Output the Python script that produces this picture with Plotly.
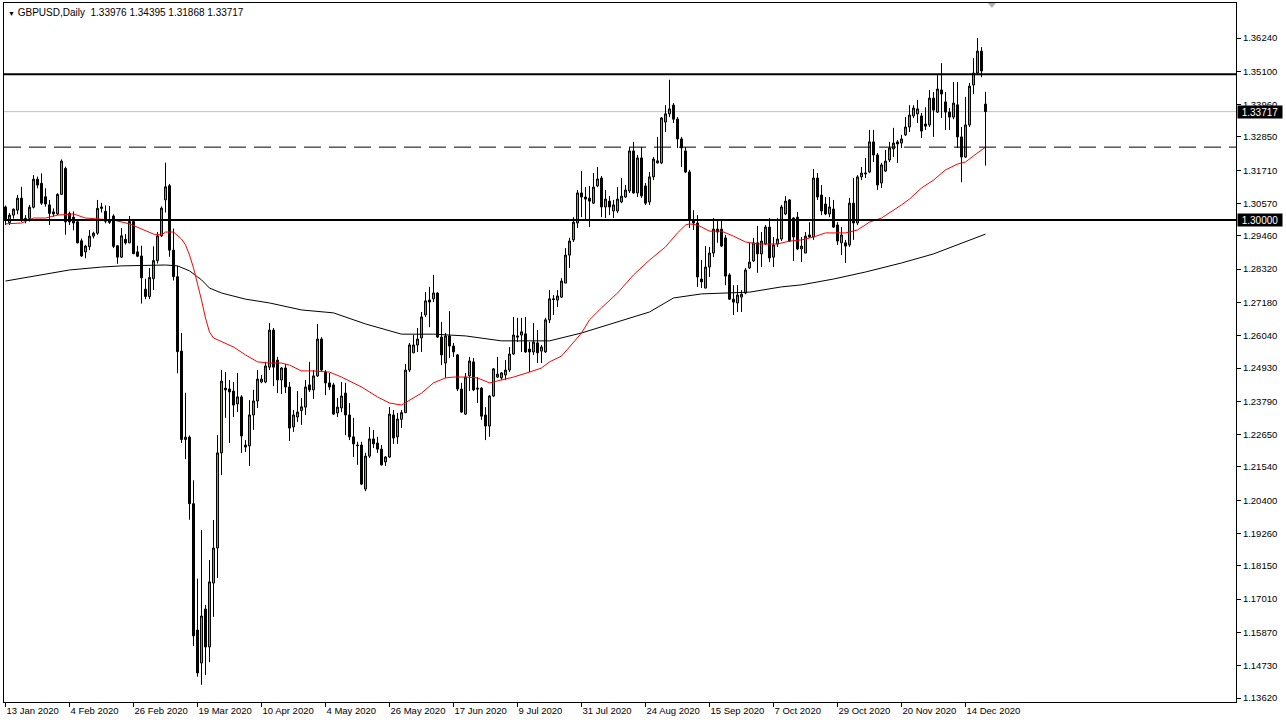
import plotly.graph_objects as go
import pandas as pd

# ---------------- data ----------------
dates = pd.bdate_range("2020-01-13", "2020-12-21")

opens = [
    1.3045, 1.2991, 1.3017, 1.3034, 1.3075, 1.3006, 1.3006, 1.3044, 1.3140, 1.3126,
    1.3080, 1.3052, 1.3028, 1.3021, 1.3088, 1.3177, 1.3023, 1.3010, 1.2994, 1.2929,
    1.2891, 1.2909, 1.2945, 1.2955, 1.3040, 1.3030, 1.3000, 1.3014, 1.2912, 1.2873,
    1.2934, 1.2922, 1.2995, 1.2891, 1.2877, 1.2763, 1.2738, 1.2799, 1.2861, 1.2946,
    1.3069, 1.3118, 1.2897, 1.2806, 1.2551, 1.2248, 1.2256, 1.2028, 1.1595, 1.1482,
    1.1667, 1.1537, 1.1756, 1.1876, 1.2202, 1.2424, 1.2421, 1.2414, 1.2370, 1.2394,
    1.2229, 1.2226, 1.2332, 1.2380, 1.2445, 1.2445, 1.2496, 1.2623, 1.2520, 1.2452,
    1.2493, 1.2428, 1.2291, 1.2325, 1.2347, 1.2359, 1.2435, 1.2418, 1.2466, 1.2592,
    1.2479, 1.2442, 1.2435, 1.2339, 1.2356, 1.2407, 1.2332, 1.2257, 1.2229, 1.2229,
    1.2078, 1.2191, 1.2250, 1.2236, 1.2215, 1.2171, 1.2188, 1.2332, 1.2257, 1.2317,
    1.2340, 1.2486, 1.2545, 1.2572, 1.2596, 1.2675, 1.2726, 1.2730, 1.2750, 1.2599,
    1.2510, 1.2603, 1.2568, 1.2538, 1.2421, 1.2335, 1.2466, 1.2514, 1.2424, 1.2424,
    1.2332, 1.2294, 1.2397, 1.2462, 1.2459, 1.2469, 1.2486, 1.2541, 1.2603, 1.2606,
    1.2610, 1.2558, 1.2548, 1.2579, 1.2551, 1.2548, 1.2658, 1.2730, 1.2726, 1.2736,
    1.2784, 1.2880, 1.2932, 1.2990, 1.3093, 1.3079, 1.3075, 1.3058, 1.3117, 1.3144,
    1.3045, 1.3065, 1.3031, 1.3031, 1.3062, 1.3079, 1.3100, 1.3237, 1.3093, 1.3213,
    1.3117, 1.3062, 1.3148, 1.3196, 1.3196, 1.3336, 1.3364, 1.3394, 1.3346, 1.3278,
    1.3237, 1.3165, 1.3000, 1.2990, 1.2798, 1.2767, 1.2839, 1.2887, 1.2969, 1.2969,
    1.2939, 1.2812, 1.2729, 1.2716, 1.2736, 1.2750, 1.2836, 1.2860, 1.2922, 1.2884,
    1.2918, 1.2976, 1.2873, 1.2918, 1.2935, 1.3021, 1.3069, 1.3007, 1.3010, 1.2901,
    1.2887, 1.2949, 1.2942, 1.3144, 1.3086, 1.3055, 1.3021, 1.3038, 1.2983, 1.2922,
    1.2922, 1.2915, 1.3058, 1.2990, 1.3148, 1.3158, 1.3165, 1.3268, 1.3223, 1.3127,
    1.3168, 1.3206, 1.3244, 1.3268, 1.3264, 1.3292, 1.3319, 1.3357, 1.3364, 1.3357,
    1.3329, 1.3326, 1.3418, 1.3370, 1.3446, 1.3405, 1.3370, 1.3353, 1.3395, 1.3285,
    1.3216, 1.3326, 1.3463, 1.3504, 1.3579, 1.33976,
]
highs = [
    1.3050, 1.3024, 1.3040, 1.3086, 1.3114, 1.3017, 1.3052, 1.3154, 1.3149, 1.3160,
    1.3109, 1.3069, 1.3040, 1.3092, 1.3208, 1.3183, 1.3029, 1.3030, 1.3000, 1.2937,
    1.2915, 1.2966, 1.2960, 1.3069, 1.3059, 1.3050, 1.3048, 1.3020, 1.2914, 1.2973,
    1.2952, 1.3014, 1.3002, 1.2912, 1.2912, 1.2799, 1.2836, 1.2910, 1.2959, 1.3047,
    1.3197, 1.3124, 1.2971, 1.2843, 1.2613, 1.2408, 1.2262, 1.2108, 1.1771, 1.1938,
    1.1681, 1.1835, 1.1972, 1.2263, 1.2486, 1.2479, 1.2452, 1.2445, 1.2476, 1.2400,
    1.2246, 1.2383, 1.2418, 1.2486, 1.2469, 1.2514, 1.2647, 1.2630, 1.2531, 1.2496,
    1.2507, 1.2445, 1.2349, 1.2414, 1.2390, 1.2452, 1.2514, 1.2486, 1.2644, 1.2599,
    1.2486, 1.2476, 1.2442, 1.2390, 1.2445, 1.2442, 1.2373, 1.2322, 1.2240, 1.2240,
    1.2202, 1.2291, 1.2281, 1.2257, 1.2229, 1.2191, 1.2359, 1.2349, 1.2339, 1.2349,
    1.2507, 1.2579, 1.2606, 1.2630, 1.2685, 1.2753, 1.2771, 1.2812, 1.2753, 1.2651,
    1.2613, 1.2688, 1.2579, 1.2541, 1.2442, 1.2476, 1.2531, 1.2527, 1.2462, 1.2428,
    1.2359, 1.2400, 1.2493, 1.2531, 1.2479, 1.2520, 1.2565, 1.2668, 1.2665, 1.2665,
    1.2668, 1.2582, 1.2647, 1.2623, 1.2572, 1.2665, 1.2760, 1.2743, 1.2760, 1.2801,
    1.2904, 1.2939, 1.3010, 1.3103, 1.3168, 1.3113, 1.3117, 1.3161, 1.3182, 1.3151,
    1.3103, 1.3082, 1.3069, 1.3113, 1.3144, 1.3120, 1.3250, 1.3268, 1.3223, 1.3250,
    1.3127, 1.3165, 1.3216, 1.3285, 1.3353, 1.3394, 1.3481, 1.3401, 1.3353, 1.3285,
    1.3250, 1.3172, 1.3034, 1.3017, 1.2863, 1.2911, 1.2908, 1.3007, 1.3000, 1.3000,
    1.2949, 1.2818, 1.2777, 1.2777, 1.2760, 1.2836, 1.2922, 1.2939, 1.2980, 1.2959,
    1.2983, 1.3007, 1.2942, 1.3007, 1.3052, 1.3082, 1.3072, 1.3010, 1.3028, 1.2942,
    1.2959, 1.2993, 1.3175, 1.3161, 1.3120, 1.3079, 1.3079, 1.3069, 1.2993, 1.2976,
    1.2932, 1.3076, 1.3144, 1.3154, 1.3182, 1.3213, 1.3309, 1.3309, 1.3230, 1.3196,
    1.3240, 1.3268, 1.3316, 1.3274, 1.3292, 1.3353, 1.3394, 1.3394, 1.3412, 1.3367,
    1.3387, 1.3446, 1.3439, 1.3497, 1.3538, 1.3439, 1.3384, 1.3473, 1.3473, 1.3319,
    1.3422, 1.3470, 1.3555, 1.3624, 1.3593, 1.34395,
]
lows = [
    1.2983, 1.2983, 1.3005, 1.3020, 1.2994, 1.2989, 1.2995, 1.3040, 1.3109, 1.3052,
    1.3046, 1.2983, 1.3012, 1.3017, 1.3086, 1.2950, 1.2983, 1.2965, 1.2920, 1.2874,
    1.2869, 1.2897, 1.2937, 1.2949, 1.3026, 1.2989, 1.2987, 1.2904, 1.2850, 1.2870,
    1.2916, 1.2921, 1.2883, 1.2873, 1.2714, 1.2729, 1.2729, 1.2760, 1.2851, 1.2942,
    1.3026, 1.2874, 1.2793, 1.2475, 1.2236, 1.2181, 1.1973, 1.1540, 1.1435, 1.1407,
    1.1441, 1.1485, 1.1640, 1.1773, 1.2126, 1.2322, 1.2236, 1.2325, 1.2342, 1.2202,
    1.2205, 1.2157, 1.2281, 1.2356, 1.2441, 1.2441, 1.2486, 1.2431, 1.2407, 1.2404,
    1.2407, 1.2243, 1.2274, 1.2308, 1.2298, 1.2332, 1.2411, 1.2387, 1.2462, 1.2479,
    1.2400, 1.2418, 1.2332, 1.2325, 1.2342, 1.2263, 1.2246, 1.2188, 1.2161, 1.2092,
    1.2071, 1.2185, 1.2219, 1.2202, 1.2159, 1.2157, 1.2185, 1.2233, 1.2233, 1.2287,
    1.2339, 1.2479, 1.2544, 1.2548, 1.2548, 1.2668, 1.2633, 1.2719, 1.2596, 1.2503,
    1.2459, 1.2527, 1.2531, 1.2414, 1.2339, 1.2332, 1.2414, 1.2414, 1.2373, 1.2315,
    1.2246, 1.2257, 1.2394, 1.2459, 1.2452, 1.2452, 1.2479, 1.2538, 1.2582, 1.2548,
    1.2545, 1.2479, 1.2538, 1.2510, 1.2510, 1.2545, 1.2647, 1.2675, 1.2702, 1.2733,
    1.2784, 1.2836, 1.2925, 1.2973, 1.3010, 1.3000, 1.2976, 1.3055, 1.3113, 1.3010,
    1.3007, 1.3017, 1.3007, 1.3024, 1.3058, 1.3076, 1.3093, 1.3091, 1.3079, 1.3076,
    1.3052, 1.3052, 1.3137, 1.3194, 1.3192, 1.3302, 1.3353, 1.3333, 1.3247, 1.3182,
    1.3161, 1.2973, 1.2966, 1.2771, 1.2767, 1.2766, 1.2805, 1.2873, 1.2922, 1.2908,
    1.2777, 1.2726, 1.2675, 1.2685, 1.2685, 1.2746, 1.2832, 1.2856, 1.2819, 1.2839,
    1.2915, 1.2856, 1.2839, 1.2908, 1.2928, 1.3017, 1.2925, 1.2860, 1.2897, 1.2856,
    1.2887, 1.2939, 1.2932, 1.3069, 1.3017, 1.3017, 1.3010, 1.2973, 1.2915, 1.2880,
    1.2853, 1.2908, 1.2932, 1.2983, 1.3137, 1.3144, 1.3161, 1.3199, 1.3103, 1.3110,
    1.3165, 1.3199, 1.3216, 1.3196, 1.3247, 1.3288, 1.3302, 1.3350, 1.3333, 1.3281,
    1.3309, 1.3319, 1.3285, 1.3367, 1.3350, 1.3309, 1.3309, 1.3346, 1.3247, 1.3130,
    1.3213, 1.3319, 1.3432, 1.3497, 1.3490, 1.31868,
]
closes = [
    1.3000, 1.3017, 1.3037, 1.3075, 1.3000, 1.2998, 1.3044, 1.3140, 1.3120, 1.3058,
    1.3055, 1.3023, 1.3021, 1.3088, 1.3202, 1.2994, 1.2994, 1.2990, 1.2922, 1.2877,
    1.2911, 1.2945, 1.2955, 1.3040, 1.3045, 1.2996, 1.2992, 1.2910, 1.2873, 1.2946,
    1.2922, 1.2995, 1.2885, 1.2876, 1.2802, 1.2738, 1.2803, 1.2861, 1.2946, 1.3041,
    1.3114, 1.2897, 1.2806, 1.2549, 1.2248, 1.2256, 1.2028, 1.1575, 1.1448, 1.1643,
    1.1537, 1.1760, 1.1876, 1.2202, 1.2448, 1.2418, 1.2411, 1.2366, 1.2394, 1.2260,
    1.2222, 1.2332, 1.2380, 1.2455, 1.2455, 1.2500, 1.2623, 1.2496, 1.2452, 1.2493,
    1.2428, 1.2287, 1.2332, 1.2342, 1.2360, 1.2428, 1.2418, 1.2466, 1.2592, 1.2486,
    1.2442, 1.2428, 1.2335, 1.2359, 1.2397, 1.2332, 1.2257, 1.2233, 1.2227, 1.2095,
    1.2191, 1.2250, 1.2233, 1.2215, 1.2161, 1.2188, 1.2335, 1.2253, 1.2318, 1.2340,
    1.2486, 1.2572, 1.2572, 1.2592, 1.2668, 1.2723, 1.2719, 1.2750, 1.2599, 1.2538,
    1.2603, 1.2568, 1.2548, 1.2421, 1.2342, 1.2462, 1.2517, 1.2418, 1.2421, 1.2328,
    1.2294, 1.2397, 1.2490, 1.2472, 1.2476, 1.2486, 1.2541, 1.2606, 1.2599, 1.2617,
    1.2548, 1.2548, 1.2582, 1.2545, 1.2565, 1.2658, 1.2730, 1.2728, 1.2740, 1.2791,
    1.2880, 1.2928, 1.2993, 1.3093, 1.3079, 1.3072, 1.3065, 1.3113, 1.3141, 1.3045,
    1.3072, 1.3045, 1.3052, 1.3072, 1.3082, 1.3103, 1.3237, 1.3093, 1.3213, 1.3083,
    1.3058, 1.3148, 1.3209, 1.3203, 1.3350, 1.3364, 1.3381, 1.3346, 1.3278, 1.3247,
    1.3165, 1.3000, 1.2990, 1.2805, 1.2788, 1.2839, 1.2887, 1.2969, 1.2959, 1.2911,
    1.2808, 1.2729, 1.2719, 1.2743, 1.2746, 1.2829, 1.2856, 1.2922, 1.2884, 1.2928,
    1.2976, 1.2870, 1.2915, 1.2935, 1.3045, 1.3065, 1.2928, 1.2942, 1.2901, 1.2911,
    1.2945, 1.2942, 1.3144, 1.3079, 1.3031, 1.3021, 1.3045, 1.2976, 1.2928, 1.2949,
    1.2911, 1.3058, 1.2990, 1.3148, 1.3161, 1.3161, 1.3268, 1.3223, 1.3120, 1.3189,
    1.3202, 1.3247, 1.3264, 1.3261, 1.3278, 1.3319, 1.3360, 1.3384, 1.3381, 1.3305,
    1.3322, 1.3418, 1.3377, 1.3449, 1.3432, 1.3370, 1.3353, 1.3401, 1.3285, 1.3216,
    1.3326, 1.3459, 1.3504, 1.3579, 1.3511, 1.33717,
]

# moving averages, sampled along the drawn lines (bar index, price)
ma_fast_idx = [0, 4, 7, 10, 13, 17, 20, 24, 27, 31, 34, 37, 39, 40, 42, 44, 45, 46, 47, 48,
               49, 50, 51, 52, 55, 57, 60, 63, 66, 69, 71, 74, 77, 81, 84, 89, 93, 96, 99, 102,
               104, 107, 110, 112, 115, 118, 121, 124, 127, 131, 134, 136, 139, 141, 144, 146,
               149, 153, 157, 161, 165, 168, 170, 171, 173, 174, 176, 179, 182, 185, 188, 193,
               196, 199, 202, 205, 210, 213, 216, 219, 221, 224, 226, 229, 232, 235, 238, 240,
               242, 244, 245]
ma_fast_val = [1.2987, 1.2990, 1.3007, 1.3007, 1.3017, 1.3021, 1.3007, 1.3004, 1.3000, 1.2987,
               1.2969, 1.2952, 1.2949, 1.2959, 1.2959, 1.2935, 1.2915, 1.2880, 1.2836, 1.2784,
               1.2726, 1.2664, 1.2616, 1.2596, 1.2579, 1.2565, 1.2538, 1.2514, 1.2510, 1.2510,
               1.2503, 1.2483, 1.2483, 1.2479, 1.2462, 1.2428, 1.2394, 1.2373, 1.2366, 1.2390,
               1.2407, 1.2442, 1.2459, 1.2462, 1.2462, 1.2459, 1.2442, 1.2452, 1.2462, 1.2479,
               1.2493, 1.2514, 1.2534, 1.2565, 1.2613, 1.2658, 1.2699, 1.2750, 1.2812, 1.2863,
               1.2908, 1.2956, 1.2983, 1.2987, 1.2983, 1.2976, 1.2962, 1.2962, 1.2945, 1.2925,
               1.2918, 1.2918, 1.2928, 1.2932, 1.2942, 1.2956, 1.2956, 1.2966, 1.2993, 1.3007,
               1.3024, 1.3052, 1.3072, 1.3110, 1.3137, 1.3172, 1.3192, 1.3199, 1.3220, 1.3240,
               1.3250]

ma_slow_idx = [0, 7, 16, 24, 29, 40, 43, 46, 49, 51, 54, 60, 66, 74, 82, 90, 99, 107, 115,
               124, 136, 144, 149, 155, 161, 167, 174, 186, 194, 199, 207, 215, 224, 232, 239, 245]
ma_slow_val = [1.2791, 1.2808, 1.2829, 1.2839, 1.2843, 1.2846, 1.2843, 1.2826, 1.2795, 1.2767,
               1.2750, 1.2729, 1.2716, 1.2692, 1.2682, 1.2644, 1.2609, 1.2609, 1.2603, 1.2586,
               1.2586, 1.2613, 1.2634, 1.2661, 1.2685, 1.2733, 1.2747, 1.2753, 1.2771, 1.2778,
               1.2798, 1.2822, 1.2853, 1.2884, 1.2921, 1.2952]

level_high = 1.3500
level_mid = 1.3250
level_low = 1.3000
last_price = 1.33717

x_tick_idx = [0, 16, 32, 48, 64, 80, 96, 112, 128, 144, 160, 176, 192, 208, 224, 240]
x_tick_text = ["13 Jan 2020", "4 Feb 2020", "26 Feb 2020", "19 Mar 2020", "10 Apr 2020",
               "4 May 2020", "26 May 2020", "17 Jun 2020", "9 Jul 2020", "31 Jul 2020",
               "24 Aug 2020", "15 Sep 2020", "7 Oct 2020", "29 Oct 2020", "20 Nov 2020",
               "14 Dec 2020"]
y_ticks = [1.36240, 1.35100, 1.33960, 1.32850, 1.31710, 1.30570, 1.29460, 1.28320, 1.27180,
           1.26040, 1.24930, 1.23790, 1.22650, 1.21540, 1.20400, 1.19260, 1.18150, 1.17010,
           1.15870, 1.14730, 1.13620]

title_text = "GBPUSD,Daily  1.33976 1.34395 1.31868 1.33717"

# ---------------- figure ----------------
FONT = "Liberation Sans, Arial, sans-serif"
idx = list(range(len(opens)))

fig = go.Figure()
fig.add_trace(go.Candlestick(
    x=idx, open=opens, high=highs, low=lows, close=closes,
    text=[d.strftime("%Y.%m.%d") for d in dates], hoverinfo="text+y",
    increasing=dict(line=dict(color="black", width=1), fillcolor="#33d633"),
    decreasing=dict(line=dict(color="black", width=1), fillcolor="black"),
    whiskerwidth=0, showlegend=False,
))
fig.add_trace(go.Scatter(x=ma_slow_idx, y=ma_slow_val, mode="lines",
                         line=dict(color="black", width=1), showlegend=False, hoverinfo="skip"))
fig.add_trace(go.Scatter(x=ma_fast_idx, y=ma_fast_val, mode="lines",
                         line=dict(color="red", width=1), showlegend=False, hoverinfo="skip"))

# horizontal levels
fig.add_hline(y=last_price, line=dict(color="#c0c0c0", width=1), layer="below")
fig.add_hline(y=level_high, line=dict(color="black", width=2))
fig.add_hline(y=level_low, line=dict(color="black", width=2))
fig.add_hline(y=level_mid, line=dict(color="black", width=1, dash="17px,8px"))

# price boxes on the axis
for val in (last_price, level_low):
    fig.add_annotation(x=1, xref="paper", y=val, yref="y", xanchor="left", yanchor="middle",
                       xshift=1, text=f"{val:.5f}", showarrow=False,
                       width=44, height=12, align="center", valign="middle",
                       font=dict(family=FONT, size=10, color="white"),
                       bgcolor="black", borderpad=0)

# title text
fig.add_annotation(x=0, xref="paper", y=1, yref="paper", xanchor="left", yanchor="top",
                   xshift=2, yshift=-2, showarrow=False,
                   text="<span style='font-size:7px'>▼</span> " + title_text,
                   font=dict(family=FONT, size=10, color="black"))

# chart shift marker
fig.add_shape(type="path", xref="x", yref="paper",
              path=f"M {len(opens)-0.4},1 L {len(opens)+1.6},1 L {len(opens)+0.6},0.993 Z",
              fillcolor="#b0b0b0", line=dict(width=0))

fig.update_layout(
    width=1286, height=724,
    margin=dict(l=4, r=50, t=3, b=22),
    paper_bgcolor="white", plot_bgcolor="white",
    font=dict(family=FONT, size=10, color="black"),
    xaxis=dict(range=[-0.375, 307.625], rangeslider=dict(visible=False),
               tickmode="array", tickvals=x_tick_idx, ticktext=x_tick_text,
               ticks="outside", ticklen=4, tickcolor="black",
               ticklabelposition="outside right",
               showgrid=False, zeroline=False, showline=True, linecolor="black",
               linewidth=1, mirror=True, tickfont=dict(size=9.5, family=FONT)),
    yaxis=dict(range=[1.13483, 1.37440], side="right",
               tickmode="array", tickvals=y_ticks, ticktext=[f"{v:.5f}" for v in y_ticks],
               ticks="outside", ticklen=4, tickcolor="black",
               showgrid=False, zeroline=False, showline=True, linecolor="black",
               linewidth=1, mirror=True, tickfont=dict(size=9.5, family=FONT)),
    hovermode="closest",
)

fig.write_html("out.html", config={"displayModeBar": False},
               post_script="document.body.style.margin='0';document.body.style.overflow='hidden';")
